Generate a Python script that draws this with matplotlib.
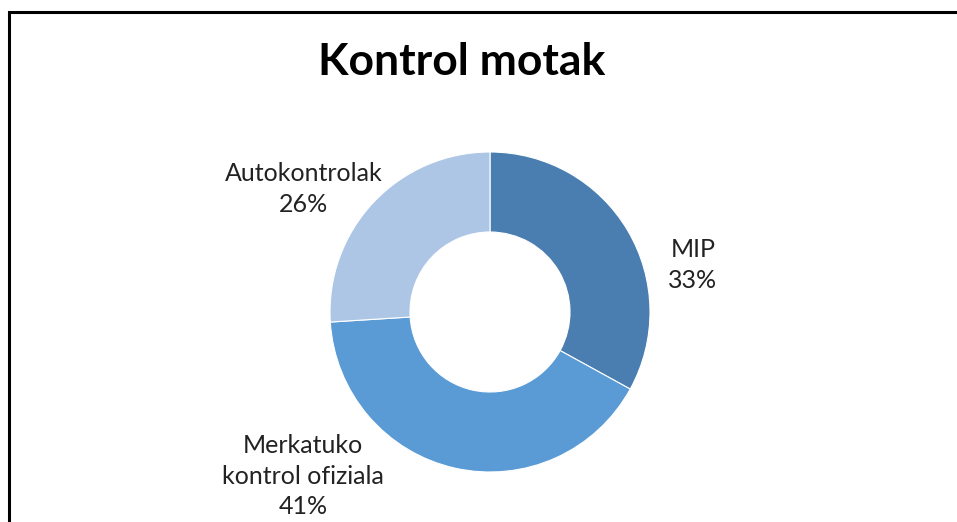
import matplotlib
matplotlib.use("Agg")
import matplotlib.pyplot as plt
from matplotlib.patches import Rectangle

categories = ["MIP", "Merkatuko\nkontrol ofiziala", "Autokontrolak"]
values = [33, 41, 26]
colors = ["#4A7EB0", "#5B9BD5", "#ADC6E6"]
label_pos = [(693, 265), (303, 476), (304, 189)]  # pixel centres of labels

plt.rcParams['font.family'] = ['Lato', 'DejaVu Sans']

W, H = 957, 522
fig = plt.figure(figsize=(W / 100, H / 100), dpi=100)
ax = fig.add_axes([0, 0, 1, 1])

cx, cy, R = 490, H - 312, 160
ax.pie(values, colors=colors, startangle=90, counterclock=False,
       center=(cx, cy), radius=R,
       wedgeprops=dict(width=R * 0.5, edgecolor='white', linewidth=0.8))
ax.set_xlim(0, W)
ax.set_ylim(0, H)
ax.set_aspect('equal')
ax.axis('off')

total = sum(values)
for name, v, (px, py) in zip(categories, values, label_pos):
    ax.text(px, H - py, f"{name}\n{round(100 * v / total)}%", ha='center', va='center',
            fontsize=18, color='#222222', linespacing=1.38)

ax.text(462, H - 62, "Kontrol motak", ha='center', va='center', fontsize=32,
        fontweight='bold', color='black')

# outer chart frame: only the top and left edges fall inside the picture
ax.add_patch(Rectangle((9, -50), W + 100, H - 12 + 50, fill=False,
                       edgecolor='black', linewidth=2.2, clip_on=False, zorder=5))

fig.savefig("out.png", dpi=100, facecolor='white')
